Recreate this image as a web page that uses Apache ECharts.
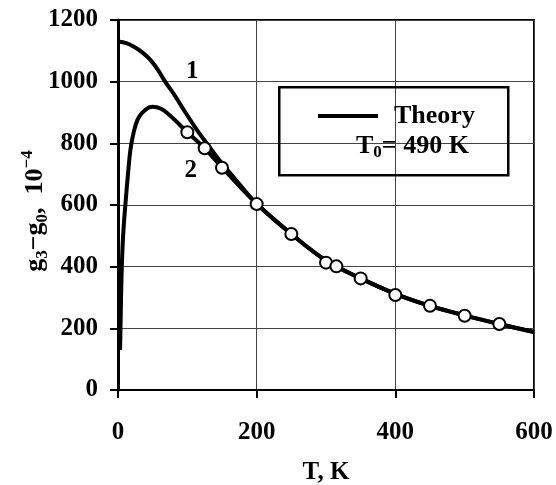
<!DOCTYPE html>
<html>
<head>
<meta charset="utf-8">
<script src="https://cdn.jsdelivr.net/npm/echarts@6/dist/echarts.min.js"></script>
<style>
  html, body { margin: 0; padding: 0; background: #fff; }
  #chart { width: 556px; height: 485px; }
</style>
</head>
<body>
<div id="chart"></div>
<script>
// curve 1 (theory, upper branch)
const t1 = [0, 12, 23, 35, 47, 58, 68, 82, 95, 114, 128, 150, 175, 200, 250, 300, 350, 400, 450, 500, 550, 600]
const g1 = [1130, 1125, 1113, 1095, 1070, 1037, 1000, 955, 908, 843, 800, 735, 668, 604, 506, 420, 362, 312, 273, 242, 214, 188]

// curve 2 (theory, lower branch)
const t2 = [3, 4, 5, 6.5, 8.5, 11, 14, 19, 28, 40, 50, 62, 75, 100, 125, 150, 200, 250, 300, 350, 400, 450, 500, 550, 600]
const g2 = [130, 250, 360, 460, 540, 610, 690, 795, 876, 910, 919, 912, 890, 836, 784, 722, 604, 506, 420, 362, 312, 273, 242, 214, 188]

// experimental points
const tExp = [100, 125, 150, 200, 250, 300, 315, 350, 400, 450, 500, 550]
const gExp = [836, 784, 721, 603, 506, 413, 401, 362, 308, 273, 241, 214]

// curve labels
const curveLabels = [
  { name: '1', t: 107, g: 1032 },
  { name: '2', t: 105, g: 713 }
]

const xTicks = [0, 200, 400, 600]
const yTicks = [0, 200, 400, 600, 800, 1000, 1200]

const serif = '"Liberation Serif", "Times New Roman", serif'

const zip = (xs, ys) => xs.map((x, i) => [x, ys[i]])

const chart = echarts.init(document.getElementById('chart'))

const option = {
  animation: false,
  backgroundColor: '#fff',
  textStyle: { fontFamily: serif, color: '#000' },
  grid: {
    left: 118, right: 22, top: 20, bottom: 95,
    outerBoundsMode: 'none', containLabel: false,
    show: true, borderColor: '#000', borderWidth: 2
  },
  legend: {
    data: [{ name: 'Theory', icon: 'rect' }],
    left: 313, top: 98,
    itemWidth: 60, itemHeight: 4, itemGap: 0,
    itemStyle: { color: '#000', borderWidth: 0 },
    textStyle: { fontFamily: serif, fontWeight: 'bold', fontSize: 26, color: '#000', padding: [0, 0, 0, 11] }
  },
  xAxis: {
    type: 'value', min: xTicks[0], max: xTicks[xTicks.length - 1], interval: 200,
    name: 'T, K', nameLocation: 'middle', nameGap: 70, nameMoveOverlap: false,
    nameTextStyle: { fontFamily: serif, fontWeight: 'bold', fontSize: 25, color: '#000' },
    axisLine: { lineStyle: { color: '#000', width: 2 } },
    axisTick: { show: true, length: 8, lineStyle: { color: '#000', width: 2 } },
    axisLabel: { margin: 30, fontFamily: serif, fontWeight: 'bold', fontSize: 25, color: '#000', formatter: v => String(v) },
    splitLine: { lineStyle: { color: '#444', width: 1 } }
  },
  yAxis: {
    type: 'value', min: yTicks[0], max: yTicks[yTicks.length - 1], interval: 200,
    name: '{m|g}{s|3}{m|\u2212g}{s|0}{m|,  10}{p|\u22124}',
    nameLocation: 'middle', nameGap: 67, nameRotate: 90, nameMoveOverlap: false,
    nameTextStyle: {
      fontFamily: serif, fontWeight: 'bold', color: '#000', padding: [0, 12, 0, 0],
      rich: {
        m: { fontFamily: serif, fontWeight: 'bold', fontSize: 26, lineHeight: 32, color: '#000' },
        s: { fontFamily: serif, fontWeight: 'bold', fontSize: 17, lineHeight: 17, verticalAlign: 'bottom', color: '#000' },
        p: { fontFamily: serif, fontWeight: 'bold', fontSize: 17, lineHeight: 17, verticalAlign: 'top', color: '#000' }
      }
    },
    axisLine: { show: true, lineStyle: { color: '#000', width: 3 } },
    axisTick: { show: true, length: 8, lineStyle: { color: '#000', width: 2 } },
    axisLabel: { margin: 20, fontFamily: serif, fontWeight: 'bold', fontSize: 25, color: '#000', formatter: v => String(v) },
    splitLine: { lineStyle: { color: '#444', width: 1 } }
  },
  graphic: [
    {
      type: 'rect', left: 278, top: 86, z: 100,
      shape: { width: 229, height: 88 },
      style: { fill: 'rgba(255,255,255,0)', stroke: '#000', lineWidth: 2.5 }
    },
    {
      type: 'text', left: 356, top: 133, z: 100,
      style: {
        text: '{m|T}{s|0}{m|= 490 K}',
        rich: {
          m: { fontFamily: serif, fontWeight: 'bold', fontSize: 26, lineHeight: 30, fill: '#000' },
          s: { fontFamily: serif, fontWeight: 'bold', fontSize: 17, lineHeight: 17, verticalAlign: 'bottom', fill: '#000' }
        }
      }
    }
  ],
  series: [
    {
      name: 'Theory', type: 'line', data: zip(t1, g1),
      smooth: 0.35, symbol: 'none',
      lineStyle: { color: '#000', width: 4 }, itemStyle: { color: '#000' }, z: 3
    },
    {
      name: 'Theory', type: 'line', data: zip(t2, g2),
      smooth: 0.35, symbol: 'none',
      lineStyle: { color: '#000', width: 4 }, itemStyle: { color: '#000' }, z: 3
    },
    {
      name: 'Experiment', type: 'scatter', data: zip(tExp, gExp),
      symbol: 'circle', symbolSize: 12,
      itemStyle: { color: '#fff', opacity: 1, borderColor: '#000', borderWidth: 2 }, z: 5
    },
    {
      name: 'labels', type: 'scatter', symbolSize: 0,
      data: curveLabels.map(d => ({ name: d.name, value: [d.t, d.g] })),
      itemStyle: { opacity: 1 },
      label: {
        show: true, position: 'inside', formatter: p => p.name, opacity: 1,
        fontFamily: serif, fontWeight: 'bold', fontSize: 25, color: '#000'
      },
      z: 6
    }
  ]
}

chart.setOption(option)
</script>
</body>
</html>
